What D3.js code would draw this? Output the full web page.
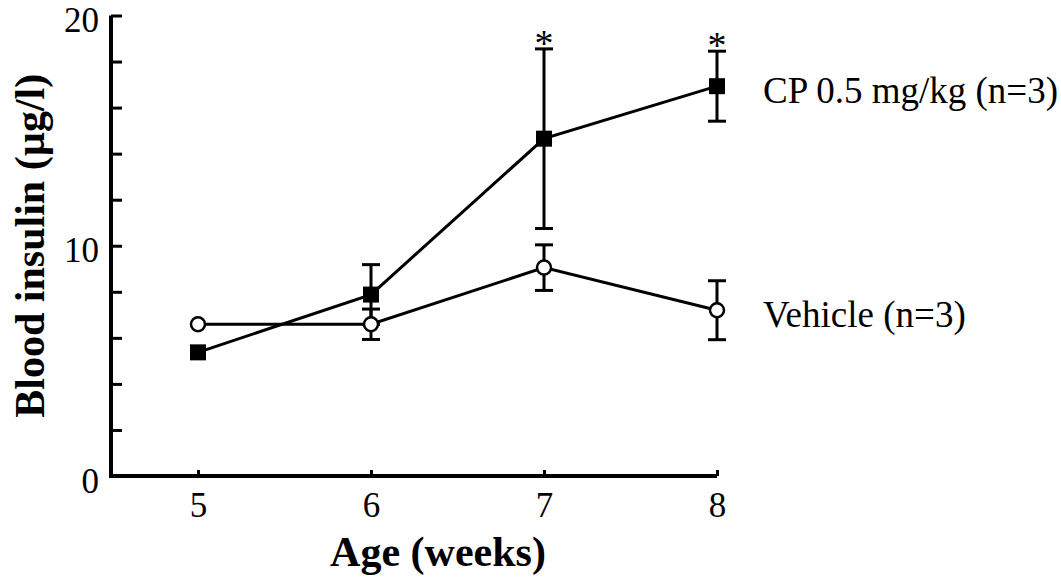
<!DOCTYPE html>
<html>
<head>
<meta charset="utf-8">
<script src="https://cdn.jsdelivr.net/npm/d3@7"></script>
<style>
  body { margin: 0; background: #fff; }
  svg { display: block; font-family: "Liberation Serif", "Times New Roman", serif; }
</style>
</head>
<body>
<div class="dataviz"><svg></svg></div>
<script>
// values
const weeks = [5, 6, 7, 8];
const cpMean = [5.37, 7.88, 14.65, 16.93];
const cpErr = [0, 1.3, 3.9, 1.52];
const vehMean = [6.59, 6.59, 9.05, 7.2];
const vehErr = [0, 0.66, 0.99, 1.28];
const signif = ["", "", "*", "*"];
const yTicks = [0, 2, 4, 6, 8, 10, 12, 14, 16, 18, 20];
const yLabels = [0, 10, 20];
const seriesNames = ["CP 0.5 mg/kg (n=3)", "Vehicle (n=3)"];

const width = 1061, height = 579;
const axisLeftX = 111;

const svg = d3.select(".dataviz > svg")
  .attr("width", width)
  .attr("height", height);

const x = d3.scaleLinear().domain([5, 8]).range([198, 717]);
const y = d3.scaleLinear().domain([0, 20]).range([476, 15.5]);

const series = [
  { name: seriesNames[0], mean: cpMean, err: cpErr, filled: true },
  { name: seriesNames[1], mean: vehMean, err: vehErr, filled: false }
].map(s => ({ ...s, pts: weeks.map((w, i) => ({ w, m: s.mean[i], e: s.err[i], sig: signif[i] })) }));

// y axis (ticks point inwards)
const yAxis = g => g
  .attr("transform", `translate(${axisLeftX},0)`)
  .call(d3.axisLeft(y).tickValues(yTicks).tickSizeInner(-11).tickSizeOuter(0).tickPadding(12)
    .tickFormat(d => yLabels.includes(d) ? d : ""))
  .call(g => g.select(".domain").remove())
  .call(g => g.selectAll(".tick line").attr("stroke", "#000").attr("stroke-width", 3))
  .call(g => g.selectAll(".tick text")
    .attr("fill", "#000")
    .attr("font-family", "Liberation Serif")
    .attr("font-size", 35)
    .attr("dy", "0.46em"));

const xAxis = g => g
  .attr("transform", `translate(0,${y(0)})`)
  .call(d3.axisBottom(x).tickValues(weeks).tickSizeInner(-6).tickSizeOuter(0).tickPadding(16).tickFormat(d3.format("d")))
  .call(g => g.select(".domain").remove())
  .call(g => g.selectAll(".tick line").attr("stroke", "#000").attr("stroke-width", 3))
  .call(g => g.selectAll(".tick text")
    .attr("fill", "#000")
    .attr("font-family", "Liberation Serif")
    .attr("font-size", 35));

svg.append("g").call(yAxis);
svg.append("g").call(xAxis);

// L shaped frame
svg.append("path")
  .attr("d", `M${axisLeftX},${y(20)}V${y(0)}H${x(8)}`)
  .attr("fill", "none")
  .attr("stroke", "#000")
  .attr("stroke-width", 4)
  .attr("stroke-linejoin", "miter");

// error bars
const capW = 9;
series.forEach(s => {
  const g = svg.append("g").attr("stroke", "#000").attr("stroke-width", 3);
  const withErr = s.pts.filter(p => p.e > 0);
  g.selectAll("line.v").data(withErr).join("line")
    .attr("x1", d => x(d.w)).attr("x2", d => x(d.w))
    .attr("y1", d => y(d.m - d.e)).attr("y2", d => y(d.m + d.e));
  g.selectAll("line.top").data(withErr).join("line")
    .attr("x1", d => x(d.w) - capW).attr("x2", d => x(d.w) + capW)
    .attr("y1", d => y(d.m + d.e)).attr("y2", d => y(d.m + d.e));
  g.selectAll("line.bot").data(withErr).join("line")
    .attr("x1", d => x(d.w) - capW).attr("x2", d => x(d.w) + capW)
    .attr("y1", d => y(d.m - d.e)).attr("y2", d => y(d.m - d.e));
});

// lines
const line = d3.line().x(d => x(d.w)).y(d => y(d.m));
series.forEach(s => {
  svg.append("path")
    .datum(s.pts)
    .attr("d", line)
    .attr("fill", "none")
    .attr("stroke", "#000")
    .attr("stroke-width", 3);
});

// markers
const sq = 16;
svg.append("g").selectAll("rect")
  .data(series[0].pts)
  .join("rect")
    .attr("x", d => x(d.w) - sq / 2)
    .attr("y", d => y(d.m) - sq / 2)
    .attr("width", sq)
    .attr("height", sq)
    .attr("fill", "#000");

svg.append("g").selectAll("circle")
  .data(series[1].pts)
  .join("circle")
    .attr("cx", d => x(d.w))
    .attr("cy", d => y(d.m))
    .attr("r", 7)
    .attr("fill", "#fff")
    .attr("stroke", "#000")
    .attr("stroke-width", 2.5);

// significance stars
svg.append("g").selectAll("text")
  .data(series[0].pts.filter(d => d.sig))
  .join("text")
    .attr("x", d => x(d.w))
    .attr("y", d => y(d.m + d.e) + 7)
    .attr("text-anchor", "middle")
    .attr("font-size", 38)
    .text(d => d.sig);

// series labels
svg.append("g").selectAll("text")
  .data(series)
  .join("text")
    .attr("x", x(8) + 46)
    .attr("y", d => y(d.mean[3]) + 17)
    .attr("font-size", 37)
    .text(d => d.name);

// axis titles
svg.append("text")
  .attr("x", 438)
  .attr("y", 566)
  .attr("text-anchor", "middle")
  .attr("font-size", 42)
  .attr("font-weight", "bold")
  .text("Age (weeks)");

svg.append("text")
  .attr("transform", `translate(44,${y(10)}) rotate(-90)`)
  .attr("text-anchor", "middle")
  .attr("font-size", 42)
  .attr("font-weight", "bold")
  .text("Blood insulin (µg/l)");
</script>
</body>
</html>
